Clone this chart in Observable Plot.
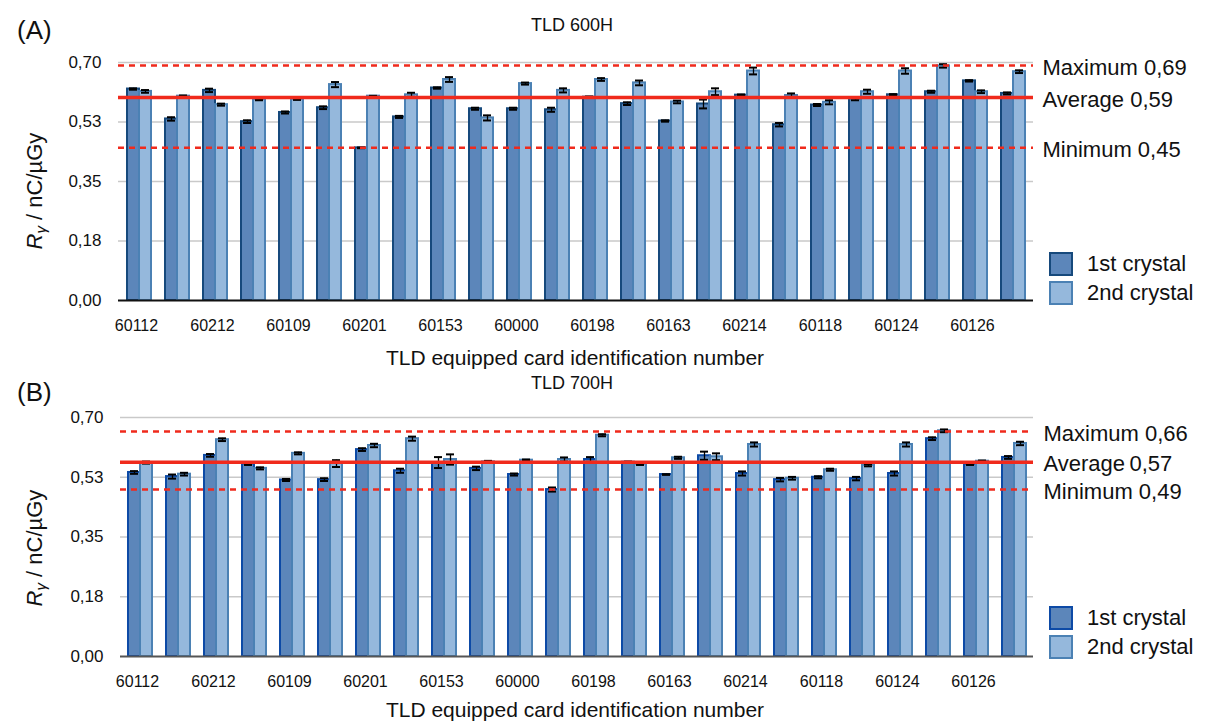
<!DOCTYPE html>
<html>
<head>
<meta charset="utf-8">
<script src="https://cdn.jsdelivr.net/npm/d3@7"></script>
<script src="https://cdn.jsdelivr.net/npm/@observablehq/plot@0.6"></script>
<style>
  html, body { margin: 0; padding: 0; background: #fff; }
  body { width: 1205px; height: 722px; position: relative; overflow: hidden;
         font-family: "Liberation Sans", Arial, Helvetica, sans-serif; color: #111; }
  .abs { position: absolute; white-space: nowrap; }
  .panel { position: absolute; left: 0; }
  .sw { position: absolute; width: 20px; height: 20px; border: 2px solid; }
</style>
</head>
<body>
<div id="root"></div>
<script>
// ---------- data ----------
const groups = d3.range(24);
const tickLabels = ["60112","60212","60109","60201","60153","60000","60198","60163","60214","60118","60124","60126"];
const yTicks = [0, 0.175, 0.35, 0.525, 0.70];
const yTickLabels = ["0,00", "0,18", "0,35", "0,53", "0,70"];
const crystals = ["1st crystal", "2nd crystal"];

// Panel A: TLD 600H
const a1st = [0.622,0.534,0.618,0.526,0.553,0.567,0.449,0.540,0.625,0.564,0.564,0.561,
              0.598,0.579,0.528,0.578,0.604,0.517,0.575,0.593,0.605,0.614,0.646,0.609];
const a2nd = [0.615,0.601,0.576,0.591,0.592,0.635,0.601,0.605,0.650,0.537,0.638,0.618,
              0.650,0.640,0.584,0.614,0.675,0.603,0.583,0.614,0.675,0.690,0.614,0.673];
const a1stErr = [0.002,0.005,0.005,0.004,0.003,0.004,0.001,0.003,0.002,0.003,0.003,0.006,
                 0.002,0.004,0.002,0.013,0.002,0.005,0.003,0.004,0.002,0.003,0.002,0.003];
const a2ndErr = [0.004,0.002,0.003,0.002,0.002,0.0075,0.001,0.006,0.007,0.0075,0.003,0.006,
                 0.004,0.007,0.004,0.010,0.010,0.006,0.006,0.006,0.008,0.005,0.004,0.004];
const aRefValues = [0.691, 0.597, 0.449];
const aRefLabels = ["Maximum 0,69", "Average 0,59", "Minimum 0,45"];

// Panel B: TLD 700H
const b1st = [0.539,0.527,0.589,0.564,0.517,0.518,0.606,0.544,0.568,0.551,0.533,0.489,
              0.577,0.569,0.533,0.588,0.536,0.518,0.525,0.521,0.536,0.638,0.563,0.583];
const b2nd = [0.568,0.534,0.635,0.551,0.595,0.565,0.618,0.638,0.577,0.570,0.575,0.577,
              0.648,0.563,0.582,0.585,0.621,0.522,0.547,0.560,0.621,0.661,0.572,0.624];
const b1stErr = [0.004,0.006,0.004,0.003,0.003,0.004,0.004,0.006,0.016,0.005,0.003,0.006,
                 0.007,0.002,0.001,0.012,0.006,0.005,0.003,0.005,0.006,0.004,0.002,0.004];
const b2ndErr = [0.003,0.004,0.004,0.003,0.003,0.010,0.005,0.006,0.015,0.003,0.002,0.006,
                 0.003,0.002,0.003,0.010,0.006,0.004,0.003,0.003,0.006,0.004,0.002,0.005];
const bRefValues = [0.659, 0.569, 0.489];
const bRefLabels = ["Maximum 0,66", "Average\u20090,57", "Minimum 0,49"];

// ---------- styles ----------
const RED = "#f02a1c";
const FILL1 = "#5c86ba", FILL2 = "#95b8dc";
const STROKE2 = "#4b81b4";

function panel(cfg) {
  const rows1 = groups.map(i => ({g: i, v: cfg.v1[i], e: cfg.e1[i]}));
  const rows2 = groups.map(i => ({g: i, v: cfg.v2[i], e: cfg.e2[i]}));
  const errMarks = (rows, dx, il, ir) => [
    Plot.ruleX(rows, {x: "g", y1: d => d.v - d.e, y2: d => d.v + d.e, dx, stroke: "#000", strokeWidth: 1.3}),
    Plot.tickY(rows, {x: "g", y: d => d.v + d.e, insetLeft: il, insetRight: ir, stroke: "#000", strokeWidth: 2}),
    Plot.tickY(rows, {x: "g", y: d => d.v - d.e, insetLeft: il, insetRight: ir, stroke: "#000", strokeWidth: 2})
  ];
  return Plot.plot({
    width: 1205,
    height: cfg.height,
    marginLeft: cfg.left,
    marginRight: 1205 - 1033,
    marginTop: cfg.top,
    marginBottom: cfg.bottom,
    style: {fontFamily: '"Liberation Sans", Arial, sans-serif', background: "transparent", overflow: "visible"},
    x: {type: "band", domain: groups, paddingInner: 0.37, paddingOuter: 0.185, align: 0.5},
    y: {domain: [0, 0.70]},
    marks: [
      Plot.ruleY(yTicks.slice(1), {stroke: "#c9c9c9", strokeWidth: 1.5}),
      Plot.axisX({ticks: groups.filter(i => i % 2 === 0), tickFormat: i => tickLabels[i / 2],
                  tickSize: 0, tickPadding: 19, fontSize: 16, dx: -3, label: null, fill: "#111"}),
      Plot.axisY({ticks: yTicks, tickFormat: d => yTickLabels[yTicks.indexOf(d)],
                  tickSize: 0, tickPadding: 17, fontSize: 17, label: null, fill: "#111"}),
      Plot.barY(rows1, {x: "g", y: "v", insetRight: 12, fill: FILL1, stroke: cfg.stroke1, strokeWidth: 2}),
      Plot.barY(rows2, {x: "g", y: "v", insetLeft: 12, fill: FILL2, stroke: STROKE2, strokeWidth: 2}),
      ...errMarks(rows1, -6, 2, 14),
      ...errMarks(rows2, 6, 14, 2),
      Plot.ruleY([0], {stroke: cfg.base, strokeWidth: 2}),
      Plot.ruleY([cfg.refs[0], cfg.refs[2]], {stroke: RED, strokeWidth: 2.5, strokeDasharray: "6,5"}),
      Plot.ruleY([cfg.refs[1]], {stroke: RED, strokeWidth: 3.5}),
      Plot.text(cfg.refLabels, {x: () => 23, y: (d, i) => cfg.refs[i], text: d => d, dx: 29, dy: 2,
                textAnchor: "start", fontSize: 22, fill: "#111", clip: false})
    ]
  });
}

const root = document.getElementById("root");
function add(el, top) { el.classList.add("panel"); el.style.top = top + "px"; root.appendChild(el); }

// Panel A: 0,70 at y=62, 0 at y=300
add(panel({v1: a1st, v2: a2nd, e1: a1stErr, e2: a2ndErr, refs: aRefValues, refLabels: aRefLabels,
           height: 340, top: 62, bottom: 40, left: 118, stroke1: "#16497c", base: "#111"}), 0);
// Panel B: 0,70 at y=417, 0 at y=656
add(panel({v1: b1st, v2: b2nd, e1: b1stErr, e2: b2ndErr, refs: bRefValues, refLabels: bRefLabels,
           height: 340, top: 57, bottom: 44, left: 120, stroke1: "#0d4aa6", base: "#555"}), 360);

// ---------- text overlays ----------
function txt(html, x, yc, size, opts = {}) {
  const d = document.createElement("div");
  d.className = "abs";
  d.innerHTML = html;
  d.style.fontSize = size + "px";
  d.style.lineHeight = size + "px";
  d.style.top = (yc - size / 2) + "px";
  if (opts.center) { d.style.left = x + "px"; d.style.transform = "translateX(-50%)"; }
  else d.style.left = x + "px";
  if (opts.rotate) {
    d.style.transform = "translate(-50%, 0) rotate(-90deg)";
    d.style.transformOrigin = "50% 50%";
  }
  document.body.appendChild(d);
  return d;
}
txt("(A)", 17, 30, 26);
txt("(B)", 17, 392, 26);
txt("TLD 600H", 572, 25, 18, {center: true});
txt("TLD 700H", 572, 383, 18, {center: true});
txt("TLD equipped card identification number", 575, 357, 21, {center: true});
txt("TLD equipped card identification number", 575, 709, 21, {center: true});
const ylab = '<i>R</i><sub style="font-size:15px;vertical-align:-4px"><i>γ</i></sub> / nC/µGy';
txt(ylab, 38, 188, 22, {rotate: true});
txt(ylab, 38, 545, 22, {rotate: true});

function legend(top1, top2, stroke1) {
  const s1 = document.createElement("div"); s1.className = "sw";
  s1.style.left = "1049px"; s1.style.top = top1 + "px"; s1.style.background = FILL1; s1.style.borderColor = stroke1;
  document.body.appendChild(s1);
  const s2 = document.createElement("div"); s2.className = "sw";
  s2.style.left = "1049px"; s2.style.top = top2 + "px"; s2.style.background = FILL2; s2.style.borderColor = STROKE2;
  document.body.appendChild(s2);
  txt(crystals[0], 1087, top1 + 12, 22, {});
  txt(crystals[1], 1087, top2 + 12, 22, {});
}
legend(252, 281, "#16497c");
legend(606, 635, "#0d4aa6");
</script>
</body>
</html>
